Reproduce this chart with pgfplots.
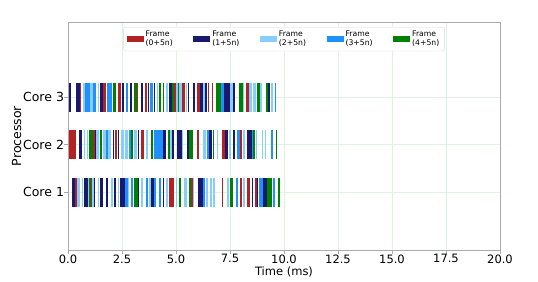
\documentclass[border=0pt]{standalone}
\usepackage{fontspec}
\setmainfont{DejaVu Sans}
\usepackage{pgfplots}
\usepackage{pgfplotstable}
\pgfplotsset{compat=1.18}

\definecolor{cRed}{RGB}{178,34,34}
\definecolor{cNavy}{RGB}{25,25,112}
\definecolor{cLight}{RGB}{135,206,250}
\definecolor{cDodger}{RGB}{30,144,255}
\definecolor{cGreen}{RGB}{0,128,0}
\definecolor{gridc}{RGB}{226,242,226}
\definecolor{spine}{RGB}{170,170,170}

% Frame 0+5n
\pgfplotstableread{
s e y
0.03 0.37 1
0.86 0.90 1
1.17 1.24 1
2.19 2.25 1
3.38 3.53 1
5.99 6.08 1
7.11 7.27 1
7.96 8.04 1
0.56 0.62 2
1.61 1.76 2
2.30 2.45 2
3.18 3.23 2
3.58 3.64 2
4.92 5.00 2
5.30 5.42 2
5.98 6.10 2
6.48 6.55 2
6.65 6.72 2
8.26 8.36 2
0.34 0.40 0
1.06 1.11 0
4.69 4.91 0
5.68 5.77 0
7.11 7.19 0
7.96 8.04 0
8.30 8.43 0
8.66 8.74 0
}\tRed
% Frame 1+5n
\pgfplotstableread{
s e y
0.03 0.12 2
0.37 0.56 2
1.50 1.61 2
2.48 2.61 2
2.88 2.95 2
3.38 3.49 2
3.69 3.76 2
3.98 4.04 2
4.66 4.81 2
5.57 5.62 2
5.80 5.90 2
6.10 6.25 2
6.34 6.45 2
7.20 7.52 2
7.65 7.72 2
9.28 9.35 2
0.52 0.65 1
1.24 1.30 1
2.07 2.14 1
2.30 2.38 1
3.22 3.30 1
4.38 4.54 1
4.81 4.92 1
5.03 5.26 1
5.52 5.62 1
6.54 6.65 1
7.27 7.42 1
7.65 7.73 1
8.30 8.50 1
0.19 0.34 0
0.76 0.91 0
1.22 1.27 0
1.48 1.64 0
1.76 1.84 0
2.14 2.22 0
2.41 2.65 0
3.23 3.30 0
3.84 3.99 0
4.38 4.46 0
6.03 6.27 0
8.50 8.58 0
8.74 8.81 0
9.04 9.20 0
}\tNavy
% Frame 2+5n
\pgfplotstableread{
s e y
0.71 0.80 2
1.02 1.17 2
1.37 1.44 2
4.10 4.15 2
4.54 4.62 2
5.00 5.08 2
5.15 5.26 2
5.44 5.50 2
6.25 6.32 2
7.52 7.65 2
8.10 8.16 2
8.40 8.50 2
8.55 8.69 2
8.90 8.97 2
9.40 9.49 2
0.76 0.80 1
0.90 0.93 1
1.30 1.45 1
1.61 1.76 1
1.84 1.99 1
2.45 2.61 1
2.65 2.76 1
3.07 3.18 1
3.61 3.69 1
4.72 4.80 1
5.26 5.34 1
6.23 6.39 1
6.88 6.96 1
7.47 7.53 1
8.09 8.19 1
8.70 8.77 1
8.97 9.01 1
9.12 9.17 1
0.40 0.56 0
0.65 0.68 0
0.91 0.99 0
1.11 1.22 0
1.37 1.45 0
1.99 2.07 0
2.30 2.38 0
2.76 2.84 0
3.38 3.46 0
3.77 3.84 0
4.54 4.61 0
5.00 5.06 0
5.37 5.49 0
5.77 5.83 0
6.39 6.50 0
6.57 6.65 0
6.73 6.81 0
7.38 7.47 0
8.12 8.19 0
}\tLight
% Frame 3+5n
\pgfplotstableread{
s e y
0.80 1.02 2
1.17 1.30 2
1.81 2.04 2
2.69 2.76 2
3.80 3.95 2
7.07 7.20 2
9.58 9.63 2
1.76 1.84 1
2.84 2.93 1
3.99 4.38 1
6.45 6.54 1
7.81 7.96 1
8.50 8.58 1
9.40 9.48 1
2.65 2.76 0
2.92 3.00 0
3.61 3.69 0
3.99 4.07 0
4.20 4.31 0
6.27 6.34 0
7.78 7.89 0
8.86 9.04 0
9.51 9.58 0
}\tDodger
% Frame 4+5n
\pgfplotstableread{
s e y
2.07 2.22 2
3.07 3.18 2
4.23 4.29 2
4.38 4.44 2
4.81 4.92 2
5.10 5.13 2
6.84 7.07 2
7.90 8.10 2
8.76 8.88 2
9.18 9.28 2
0.96 1.14 1
1.48 1.57 1
2.93 3.02 1
3.84 3.92 1
4.61 4.72 1
5.62 5.80 1
6.70 6.77 1
8.58 8.66 1
9.62 9.69 1
0.99 1.06 0
3.07 3.23 0
5.15 5.21 0
5.62 5.68 0
7.50 7.65 0
9.20 9.43 0
9.74 9.81 0
}\tGreen

\def\bw{29bp}
\pgfplotsset{
  segs/.style={draw=none, mark=none, forget plot,
    error bars/.cd, x dir=plus, x explicit, error mark=none,
    error bar style={draw=#1, line width=\bw}},
}

\begin{document}
\begin{tikzpicture}
\useasboundingbox (0,0) rectangle (538bp,282bp);
\begin{axis}[
  at={(68bp,32bp)}, anchor=south west,
  scale only axis, width=432bp, height=228bp,
  xmin=0, xmax=20, ymin=-1.22, ymax=3.58,
  xtick={0,2.5,...,20},
  ytick={0,1,2}, yticklabels={Core 1, Core 2, Core 3},
  /pgf/number format/assume math mode=true,
  ticklabel style={font=\fontsize{11.5bp}{13bp}\selectfont},
  xticklabel style={yshift=2.5bp, /pgf/number format/.cd, fixed, fixed zerofill, precision=1},
  yticklabel style={font=\fontsize{12.5bp}{14bp}\selectfont, xshift=3bp},
  xlabel={Time (ms)}, ylabel={Processor},
  xlabel style={font=\fontsize{11.5bp}{13bp}\selectfont, yshift=3bp},
  ylabel style={font=\fontsize{12.5bp}{14bp}\selectfont, yshift=-5bp},
  axis line style={spine},
  tick style={spine},
  tick align=outside, tick pos=left,
  major tick length=3.5bp,
  grid=major, grid style={gridc, line width=0.6bp},
  legend columns=5,
  legend style={at={(0.5,0.978)}, anchor=north, draw={rgb,255:red,215;green,215;blue,215},
    rounded corners=2bp, fill=white,
    font=\fontsize{7.7bp}{8.7bp}\selectfont,
    nodes={align=left, inner sep=2bp},
    /tikz/every even column/.append style={column sep=18.5bp}},
  legend image code/.code={\fill[#1, sharp corners, draw=none] (0bp,-3bp) rectangle (17bp,3bp);},
]
\addplot[segs=cRed] table[x=s, y=y, x error expr=\thisrow{e}-\thisrow{s}] {\tRed};
\addplot[segs=cNavy] table[x=s, y=y, x error expr=\thisrow{e}-\thisrow{s}] {\tNavy};
\addplot[segs=cLight] table[x=s, y=y, x error expr=\thisrow{e}-\thisrow{s}] {\tLight};
\addplot[segs=cDodger] table[x=s, y=y, x error expr=\thisrow{e}-\thisrow{s}] {\tDodger};
\addplot[segs=cGreen] table[x=s, y=y, x error expr=\thisrow{e}-\thisrow{s}] {\tGreen};
\addlegendimage{fill=cRed}\addlegendentry{Frame\\(0+5n)}
\addlegendimage{fill=cNavy}\addlegendentry{Frame\\(1+5n)}
\addlegendimage{fill=cLight}\addlegendentry{Frame\\(2+5n)}
\addlegendimage{fill=cDodger}\addlegendentry{Frame\\(3+5n)}
\addlegendimage{fill=cGreen}\addlegendentry{Frame\\(4+5n)}
\end{axis}
\end{tikzpicture}
\end{document}
